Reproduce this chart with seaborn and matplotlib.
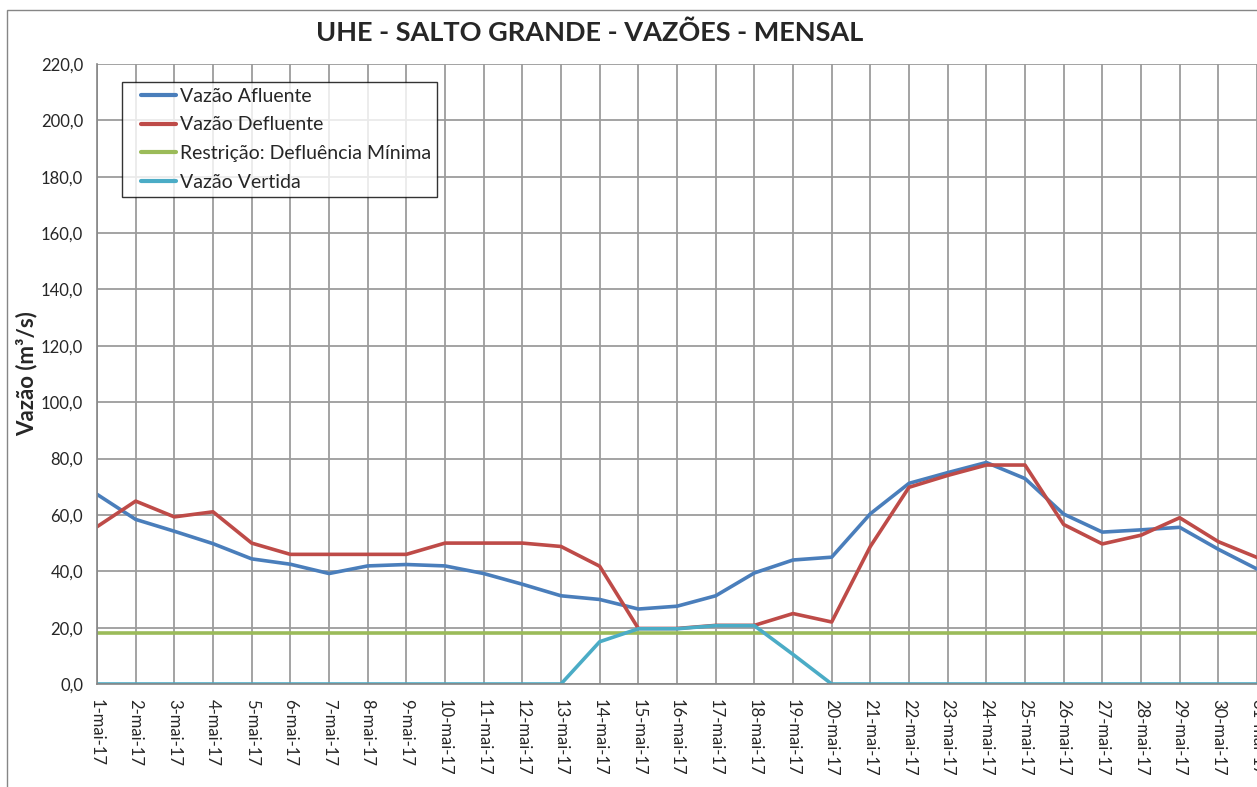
import numpy as np
import pandas as pd
import matplotlib.pyplot as plt
import matplotlib.patches as mpatches
import seaborn as sns

# 1. Data
dias = list(range(1, 32))
rotulos_x = [f"{d}-mai-17" for d in dias]

vazao_afluente = [67.3, 58.4, 54.2, 49.8, 44.4, 42.5, 39.2, 41.9, 42.4, 41.9,
                  39.2, 35.4, 31.3, 30.0, 26.6, 27.6, 31.3, 39.4, 44.0, 45.0,
                  60.4, 71.2, 75.0, 78.6, 72.9, 60.3, 53.9, 54.7, 55.6, 47.8,
                  40.8]
vazao_defluente = [55.8, 64.9, 59.3, 61.1, 50.0, 46.0, 46.0, 46.0, 46.0, 50.0,
                   50.0, 50.0, 48.8, 41.8, 19.7, 19.7, 20.8, 20.8, 25.0, 22.0,
                   48.8, 69.8, 74.0, 77.7, 77.7, 56.6, 49.7, 52.8, 59.0, 50.5,
                   44.9]
defluencia_minima = [18.0, 18.0, 18.0, 18.0, 18.0, 18.0, 18.0, 18.0, 18.0, 18.0,
                     18.0, 18.0, 18.0, 18.0, 18.0, 18.0, 18.0, 18.0, 18.0, 18.0,
                     18.0, 18.0, 18.0, 18.0, 18.0, 18.0, 18.0, 18.0, 18.0, 18.0,
                     18.0]
vazao_vertida = [0.0, 0.0, 0.0, 0.0, 0.0, 0.0, 0.0, 0.0, 0.0, 0.0,
                 0.0, 0.0, 0.0, 15.0, 19.6, 19.6, 20.7, 20.7, 10.5, 0.0,
                 0.0, 0.0, 0.0, 0.0, 0.0, 0.0, 0.0, 0.0, 0.0, 0.0,
                 0.0]

series = ["Vazão Afluente", "Vazão Defluente",
          "Restrição: Defluência Mínima", "Vazão Vertida"]
cores = ["#4A7EBB", "#BE4B48", "#9BBB59", "#4BACC6"]

y_ticks = [0, 20, 40, 60, 80, 100, 120, 140, 160, 180, 200, 220]
y_rotulos = ["0,0", "20,0", "40,0", "60,0", "80,0", "100,0", "120,0",
             "140,0", "160,0", "180,0", "200,0", "220,0"]

df = pd.DataFrame({
    "dia": dias * 4,
    "valor": vazao_afluente + vazao_defluente + defluencia_minima + vazao_vertida,
    "serie": [s for s in series for _ in dias],
})

# 2. Plot
sns.set_style("white")
plt.rcParams['font.family'] = ['Lato', 'DejaVu Sans']

W, H = 1257, 787
fig = plt.figure(figsize=(W / 100, H / 100), dpi=100)
ax = fig.add_axes([97 / W, 1 - 684 / H, 1160 / W, 620 / H])

sns.lineplot(data=df, x="dia", y="valor", hue="serie", hue_order=series,
             palette=cores, linewidth=2.6, ax=ax, sort=False)

ax.set_xlim(1, 31)
ax.set_ylim(0, 220)
ax.set_xticks(dias)
ax.set_xticklabels(rotulos_x, rotation=270, fontsize=12, va="top", ha="center")
ax.set_yticks(y_ticks)
ax.set_yticklabels(y_rotulos, fontsize=12)
ax.tick_params(axis="x", length=5, width=1, color="#868686", pad=6, direction="out")
ax.tick_params(axis="y", length=4, width=1, color="#868686", pad=6, direction="out")
ax.grid(True, color="#9c9c9c", linewidth=1.3)
ax.set_axisbelow(True)
for s in ["top", "right"]:
    ax.spines[s].set_visible(False)
for s in ["left", "bottom"]:
    ax.spines[s].set_color("#868686")
    ax.spines[s].set_linewidth(1.2)

ax.set_xlabel("")
ax.set_ylabel("Vazão (m³/s)", fontsize=16, fontweight="bold")
ax.yaxis.set_label_coords(-0.051, 0.5)

# legend - boxed, short line handles indented like Excel
leg = ax.legend(loc="upper left", bbox_to_anchor=(25 / 1160, 1 - 18 / 620),
                fontsize=14, frameon=True, fancybox=False, borderaxespad=0,
                handlelength=2.5, handletextpad=0.2, labelspacing=0.6,
                borderpad=0.3)
leg.get_frame().set_edgecolor("black")
leg.get_frame().set_linewidth(1.0)
for line in leg.get_lines():
    line.set_linewidth(3)
    xd = np.asarray(line.get_xdata(), dtype=float)
    line.set_xdata(np.linspace(xd[-1] - 25.2, xd[-1], len(xd)))

fig.text(590 / W, 1 - 33 / H, "UHE - SALTO GRANDE - VAZÕES - MENSAL",
         fontsize=19.5, fontweight="bold", ha="center", va="center")

# outer chart border (cut at right/bottom like the reference)
fig.patches.append(mpatches.Rectangle((7 / W, -0.1), 1.2, 1 - 10 / H + 0.1,
                                      transform=fig.transFigure, fill=False,
                                      edgecolor="#868686", linewidth=1.0))

plt.savefig("out.png", dpi=100)
